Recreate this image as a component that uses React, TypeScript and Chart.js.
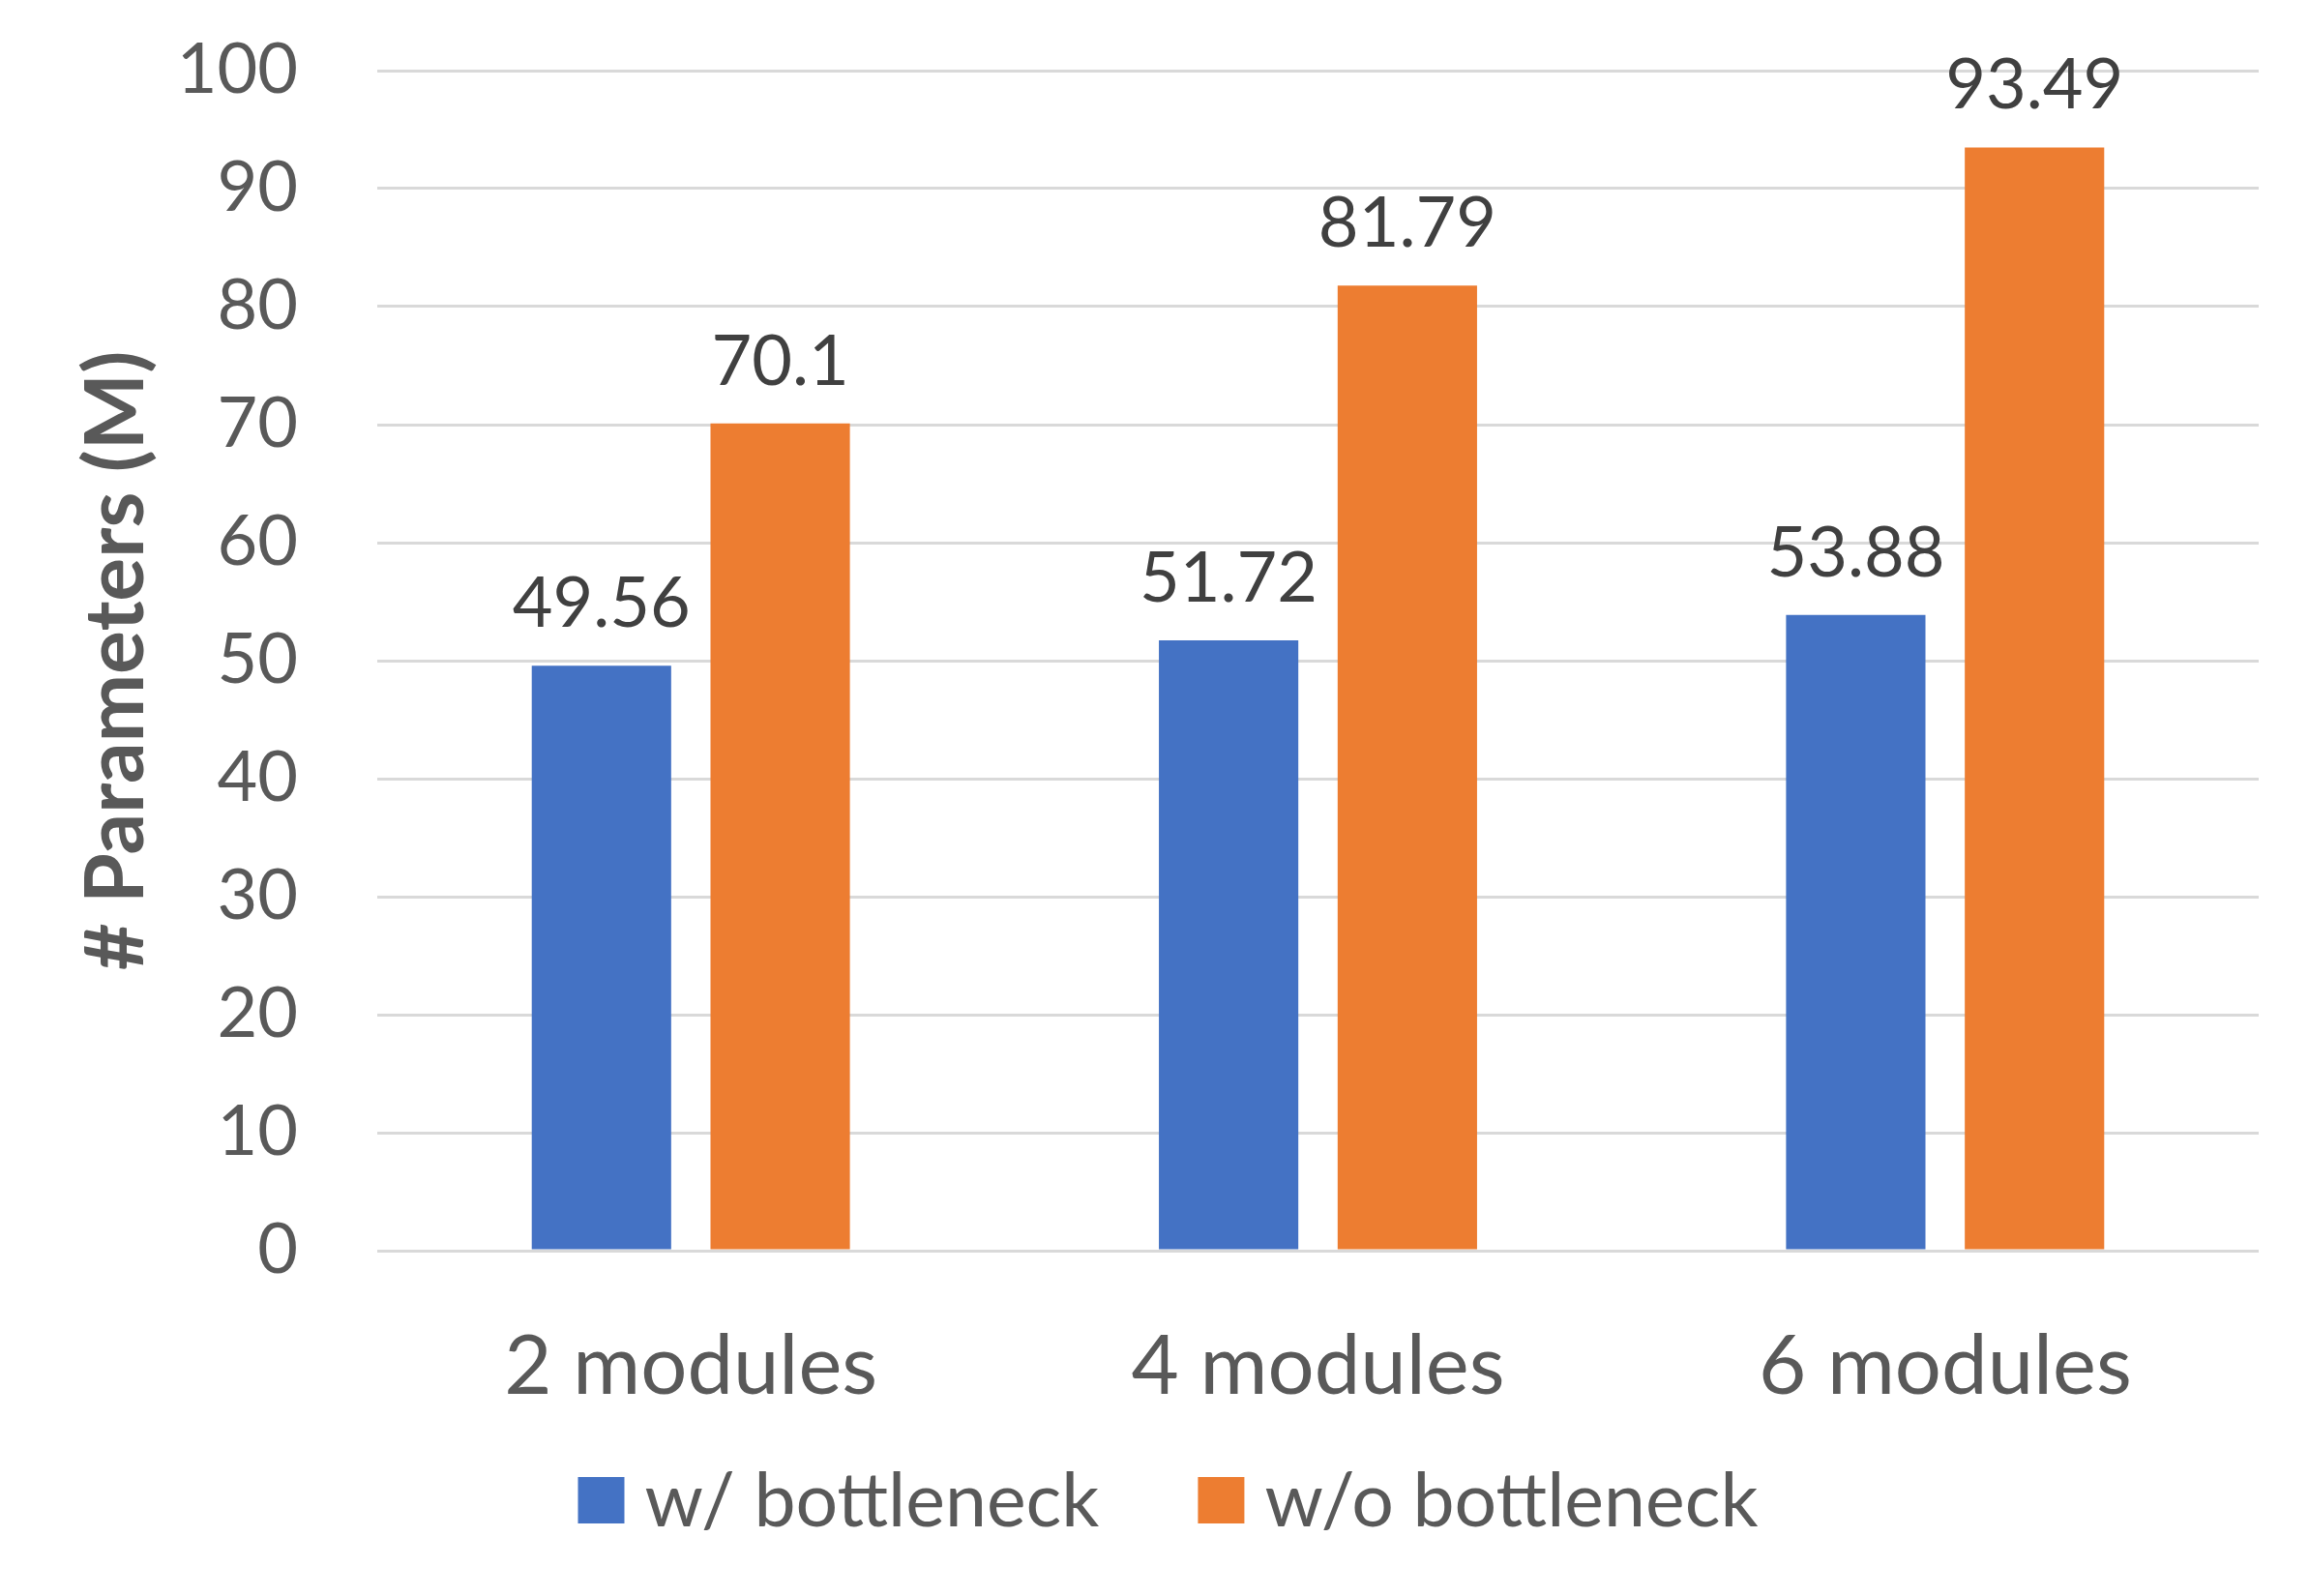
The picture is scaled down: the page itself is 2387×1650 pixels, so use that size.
import React, { useEffect, useRef } from "react";
import { Chart, registerables } from "chart.js";

Chart.register(...registerables);

const categories = ["2 modules", "4 modules", "6 modules"];
const seriesNames = ["w/ bottleneck", "w/o bottleneck"];
const withBottleneck = [49.56, 51.72, 53.88];
const withoutBottleneck = [70.1, 81.79, 93.49];
const yMin = 0;
const yMax = 100;
const yStep = 10;
const seriesColors = ["#4472C4", "#ED7D31"];
const axisTitle = "# Parameters (M)";

const FONT = "Lato, 'Open Sans', 'DejaVu Sans', sans-serif";

const valueLabels = {
  id: "valueLabels",
  afterDatasetsDraw(chart: any) {
    const ctx = chart.ctx;
    ctx.save();
    ctx.font = `72px ${FONT}`;
    ctx.fillStyle = "#404040";
    ctx.textAlign = "center";
    ctx.textBaseline = "alphabetic";
    chart.data.datasets.forEach((ds: any, di: number) => {
      const meta = chart.getDatasetMeta(di);
      meta.data.forEach((el: any, i: number) => {
        ctx.fillText(String(ds.data[i]), el.x, el.y - 40);
      });
    });
    ctx.restore();
  },
};

const bottomLegend = {
  id: "bottomLegend",
  afterDraw(chart: any) {
    const ctx = chart.ctx;
    ctx.save();
    ctx.font = `77px ${FONT}`;
    const box = 48;
    const gapText = 21;
    const gapItem = 102;
    const items = chart.data.datasets.map((d: any) => ({
      label: d.label,
      color: d.backgroundColor,
      w: ctx.measureText(d.label).width,
    }));
    const total =
      items.reduce((a: number, it: any) => a + box + gapText + it.w, 0) +
      gapItem * (items.length - 1);
    let x = chart.width / 2 + 14 - total / 2;
    const cy = 1551;
    ctx.textBaseline = "middle";
    ctx.textAlign = "left";
    items.forEach((it: any) => {
      ctx.fillStyle = it.color;
      ctx.fillRect(x, cy - box / 2, box, box);
      x += box + gapText;
      ctx.fillStyle = "#595959";
      ctx.fillText(it.label, x, cy + 2);
      x += it.w + gapItem;
    });
    ctx.restore();
  },
};

export default function App() {
  const ref = useRef<HTMLCanvasElement | null>(null);

  useEffect(() => {
    document.body.style.margin = "0";
    if (!ref.current) return;
    const chart = new Chart(ref.current, {
      type: "bar",
      data: {
        labels: categories,
        datasets: [
          {
            label: seriesNames[0],
            data: withBottleneck,
            backgroundColor: seriesColors[0],
            categoryPercentage: 0.57,
            barPercentage: 0.78,
          },
          {
            label: seriesNames[1],
            data: withoutBottleneck,
            backgroundColor: seriesColors[1],
            categoryPercentage: 0.57,
            barPercentage: 0.78,
          },
        ],
      },
      options: {
        animation: false,
        responsive: true,
        maintainAspectRatio: false,
        layout: { padding: { top: 73, right: 52, bottom: 187, left: 0 } },
        plugins: {
          legend: { display: false },
          tooltip: { enabled: false },
        },
        scales: {
          x: {
            grid: { display: false, drawTicks: false },
            border: { display: false },
            ticks: {
              color: "#595959",
              font: { family: FONT, size: 85 },
              padding: 70,
            },
            afterFit(scale: any) {
              scale.height = 170;
            },
          },
          y: {
            min: yMin,
            max: yMax,
            grid: { color: "#D9D9D9", lineWidth: 3, drawTicks: false },
            border: { display: false },
            ticks: {
              stepSize: yStep,
              color: "#595959",
              font: { family: FONT, size: 72 },
              padding: 82,
            },
            title: {
              display: true,
              text: axisTitle,
              color: "#595959",
              font: { family: FONT, size: 84, weight: "bold" },
              padding: { top: 71, bottom: 0 },
            },
            afterFit(scale: any) {
              scale.width = 390;
              scale.paddingTop = 0;
              scale.paddingBottom = 0;
            },
          },
        },
      },
      plugins: [valueLabels, bottomLegend],
    });
    return () => chart.destroy();
  }, []);

  return (
    <div style={{ position: "absolute", left: 0, top: 0, width: 2387, height: 1650, background: "#fff" }}>
      <canvas ref={ref} />
    </div>
  );
}
